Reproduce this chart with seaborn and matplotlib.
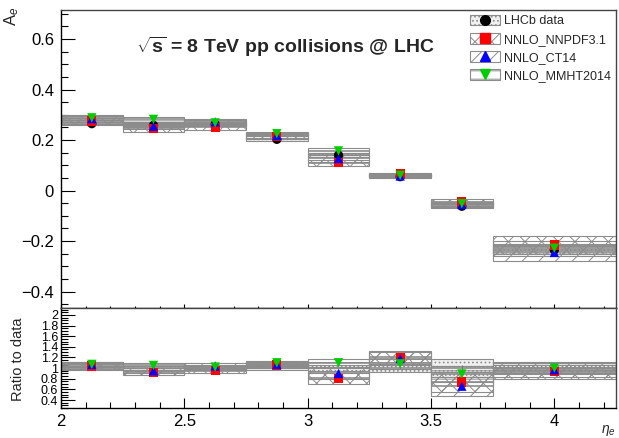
import numpy as np
import pandas as pd

import matplotlib
matplotlib.use("Agg")
import matplotlib.pyplot as plt
from matplotlib.patches import Patch
from matplotlib.lines import Line2D
from matplotlib.legend_handler import HandlerTuple
from matplotlib.ticker import MultipleLocator, FuncFormatter
import seaborn as sns

sns.set_style("ticks")
plt.rcParams["font.family"] = ["Liberation Sans", "DejaVu Sans"]
plt.rcParams["mathtext.fontset"] = "custom"
plt.rcParams["mathtext.rm"] = "Liberation Sans"
plt.rcParams["mathtext.bf"] = "Liberation Sans:bold"
plt.rcParams["mathtext.it"] = "Liberation Sans:italic"
plt.rcParams["hatch.linewidth"] = 0.7


# Data

bin_lo = [2.0, 2.25, 2.5, 2.75, 3.0, 3.25, 3.5, 3.75]
bin_hi = [2.25, 2.5, 2.75, 3.0, 3.25, 3.5, 3.75, 4.25]
eta = [2.125, 2.375, 2.625, 2.875, 3.125, 3.375, 3.625, 4.0]

lhcb = [0.265, 0.258, 0.262, 0.203, 0.140, 0.055, -0.062, -0.235]
lhcb_err = [0.006, 0.006, 0.006, 0.006, 0.007, 0.005, 0.008, 0.015]
nnpdf = [0.275, 0.245, 0.250, 0.215, 0.110, 0.065, -0.045, -0.215]
nnpdf_err = [0.012, 0.012, 0.012, 0.010, 0.013, 0.006, 0.010, 0.035]
ct14 = [0.285, 0.255, 0.272, 0.218, 0.127, 0.058, -0.055, -0.245]
ct14_err = [0.012, 0.012, 0.012, 0.010, 0.015, 0.006, 0.010, 0.035]
mmht = [0.288, 0.282, 0.268, 0.225, 0.157, 0.060, -0.052, -0.228]
mmht_err = [0.010, 0.010, 0.010, 0.008, 0.010, 0.005, 0.008, 0.030]

r_lhcb_err = [0.04, 0.04, 0.04, 0.04, 0.06, 0.08, 0.17, 0.10]
r_nnpdf = [1.04, 0.92, 0.95, 1.06, 0.81, 1.20, 0.74, 0.93]
r_nnpdf_err = [0.05, 0.05, 0.05, 0.05, 0.10, 0.12, 0.18, 0.13]
r_ct14 = [1.07, 0.95, 1.04, 1.07, 0.90, 1.18, 0.66, 0.97]
r_ct14_err = [0.05, 0.05, 0.05, 0.05, 0.10, 0.12, 0.18, 0.13]
r_mmht = [1.07, 1.05, 1.02, 1.10, 1.10, 1.08, 0.89, 1.00]
r_mmht_err = [0.04, 0.04, 0.04, 0.04, 0.08, 0.10, 0.15, 0.11]

labels = ["LHCb data", "NNLO_NNPDF3.1", "NNLO_CT14", "NNLO_MMHT2014"]
colors = ["black", "#ff0000", "#0000ff", "#00cc00"]
markers = ["o", "s", "^", "v"]
hatches = ["....", "xx", "//", "--"]
band_gray = "#8c8c8c"

lo = np.array(bin_lo)
hi = np.array(bin_hi)


def draw_band(ax, center, err, hatch, face="none", center_line=True):
    c = np.array(center)
    e = np.array(err)
    ax.bar(lo, 2 * e, bottom=c - e, width=hi - lo, align="edge",
           facecolor=face, edgecolor=band_gray, hatch=hatch, linewidth=0.8,
           zorder=2)
    if center_line:
        ax.hlines(c, lo, hi, color=band_gray, linewidth=1.2, zorder=2)


fig = plt.figure(figsize=(6.19, 4.38), dpi=100)
ax1 = fig.add_axes([61 / 619, 1 - 308 / 438, 555 / 619, 298 / 438])
ax2 = fig.add_axes([61 / 619, 1 - 408 / 438, 555 / 619, 100 / 438])

# top panel bands
draw_band(ax1, lhcb, lhcb_err, "....", face="#f0f0f0")
draw_band(ax1, nnpdf, nnpdf_err, "xx")
draw_band(ax1, ct14, ct14_err, "//")
draw_band(ax1, mmht, mmht_err, "--")

top_df = pd.DataFrame({
    "eta": eta * 4,
    "value": lhcb + nnpdf + ct14 + mmht,
    "source": sum([[name] * len(eta) for name in labels], []),
})

ax1.errorbar(eta, lhcb, yerr=lhcb_err, fmt="none", ecolor="black",
             elinewidth=0.8, zorder=3)
sns.scatterplot(data=top_df, x="eta", y="value", hue="source", style="source",
                palette=dict(zip(labels, colors)),
                markers=dict(zip(labels, markers)),
                s=45, edgecolor="none", legend=False, zorder=4, ax=ax1)

# ratio panel bands
ones = [1.0] * len(eta)
draw_band(ax2, ones, r_lhcb_err, "....", face="#f0f0f0")
draw_band(ax2, r_nnpdf, r_nnpdf_err, "xx")
draw_band(ax2, r_ct14, r_ct14_err, "//")
draw_band(ax2, r_mmht, r_mmht_err, "--")

ratio_df = pd.DataFrame({
    "eta": eta * 3,
    "ratio": r_nnpdf + r_ct14 + r_mmht,
    "source": sum([[name] * len(eta) for name in labels[1:]], []),
})
ax2.errorbar(eta, r_mmht, yerr=r_lhcb_err, fmt="none", ecolor="#777777",
             elinewidth=0.8, zorder=3)
sns.scatterplot(data=ratio_df, x="eta", y="ratio", hue="source", style="source",
                palette=dict(zip(labels[1:], colors[1:])),
                markers=dict(zip(labels[1:], markers[1:])),
                s=45, edgecolor="none", legend=False, zorder=4, ax=ax2)

# axes styling
for ax in (ax1, ax2):
    ax.set_xlim(2.0, 4.25)
    ax.set_xlabel("")
    ax.set_ylabel("")
    ax.xaxis.set_major_locator(MultipleLocator(0.5))
    ax.xaxis.set_minor_locator(MultipleLocator(0.1))
    ax.xaxis.set_major_formatter(FuncFormatter(lambda v, p: f"{v:g}"))
    ax.tick_params(which="both", direction="in", top=False, right=False,
                   colors="black", width=0.8)
    ax.spines["left"].set_color("black")
    ax.spines["bottom"].set_color("black")
    ax.spines["top"].set_color("#444444")
    ax.spines["right"].set_color("#444444")
    for sp in ax.spines.values():
        sp.set_linewidth(1.0)

ax1.set_ylim(-0.465, 0.715)
ax1.yaxis.set_minor_locator(MultipleLocator(0.05))
ax1.set_yticks([-0.4, -0.2, 0, 0.2, 0.4, 0.6])
ax1.set_yticklabels(["\u22120.4", "\u22120.2", "0", "0.2", "0.4", "0.6"])
ax1.tick_params(axis="y", which="major", length=10, labelsize=12, pad=5)
ax1.tick_params(axis="y", which="minor", length=5)
ax1.tick_params(axis="x", which="major", length=3, labelbottom=False)
ax1.tick_params(axis="x", which="minor", length=1.5)

ax2.set_ylim(0.25, 2.13)
ax2.yaxis.set_minor_locator(MultipleLocator(0.05))
ax2.set_yticks([0.4, 0.6, 0.8, 1.0, 1.2, 1.4, 1.6, 1.8, 2.0])
ax2.set_yticklabels(["0.4", "0.6", "0.8", "1", "1.2", "1.4", "1.6", "1.8", "2"])
ax2.tick_params(axis="y", which="major", length=10, labelsize=9, pad=2)
ax2.tick_params(axis="y", which="minor", length=5)
ax2.tick_params(axis="x", which="major", length=7, labelsize=12, pad=4)
ax2.tick_params(axis="x", which="minor", length=4)

# texts
fig.text(12 / 619, 1 - 16 / 438, r"A$_{e}$", rotation=90, fontsize=12,
         ha="center", va="center")
fig.text(18 / 619, 1 - 359 / 438, "Ratio to data", rotation=90, fontsize=10.5,
         ha="center", va="center")
fig.text(608 / 619, 1 - 430 / 438, r"$\eta_{e}$", fontsize=10,
         ha="center", va="center")
fig.text(285 / 619, 1 - 47 / 438, r"$\sqrt{\mathbf{s}}$ = 8 TeV pp collisions @ LHC",
         fontsize=14, fontweight="bold", ha="center", va="center")

# legend
handles = []
faces = ["#f0f0f0", "none", "none", "none"]
for name, col, mk, ht, fc in zip(labels, colors, markers, hatches, faces):
    band = Patch(facecolor=fc, edgecolor=band_gray, hatch=ht, linewidth=0.8)
    mark = Line2D([], [], marker=mk, color=col, linestyle="none", markersize=7)
    handles.append((band, mark))

fig.legend(handles, labels, loc="upper left",
           bbox_to_anchor=(470 / 619, 1 - 15 / 438), frameon=False,
           fontsize=9, handler_map={tuple: HandlerTuple(ndivide=1, pad=0)},
           handlelength=2.4, handleheight=0.9, handletextpad=0.35,
           labelspacing=0.45, borderpad=0, borderaxespad=0)

plt.savefig("out.png", dpi=100)
